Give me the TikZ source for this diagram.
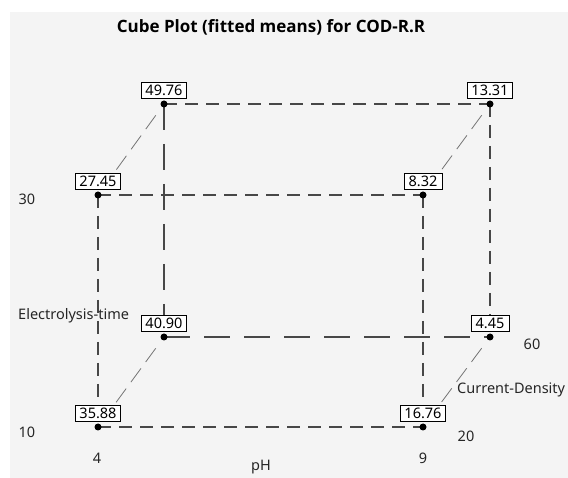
\documentclass[tikz,border=0pt]{standalone}
\usepackage{fontspec}
\setmainfont{Noto Sans}
\newfontfamily\titlefont{Open Sans}
\begin{document}
\begin{tikzpicture}[x=1pt,y=-1pt,
  edge/.style={draw=black!72, line width=1.1pt},
  shortdash/.style={edge, dash pattern=on 13pt off 8pt},
  longdash/.style={edge, dash pattern=on 26pt off 14pt},
  diag/.style={draw=black!55, line width=0.8pt, dash pattern=on 17pt off 8pt},
  dot/.style={circle, fill=black, inner sep=0pt, minimum size=7pt},
  val/.style={draw=black, fill=white, line width=0.6pt, inner xsep=1pt, inner ysep=0pt, font=\fontsize{14.5}{14.5}\selectfont, anchor=south, yshift=5pt, minimum width=45pt, minimum height=16pt},
  lab/.style={font=\fontsize{14.5}{15}\selectfont, inner sep=0pt, text=black!85}
]
\useasboundingbox (0,0) rectangle (568,478);
\fill[white] (0,0) rectangle (568,478);
\fill[black!4.5] (10,12) rectangle (568,478);
\node[font=\fontsize{17}{17}\selectfont\titlefont\bfseries, inner sep=0pt] (title) at (271,27) {Cube Plot (fitted means) for COD-R.R};

% corners
\coordinate (FBL) at (98,427);
\coordinate (FBR) at (423,427);
\coordinate (FTL) at (98,195);
\coordinate (FTR) at (423,195);
\coordinate (BBL) at (164,337);
\coordinate (BBR) at (490,337);
\coordinate (BTL) at (164,104);
\coordinate (BTR) at (490,104);

% back face
\draw[shortdash] (BTL) -- (BTR);
\draw[longdash] (BBL) -- (BBR);
\draw[longdash] (BTL) -- (BBL);
\draw[shortdash] (BTR) -- (BBR);
% front face
\draw[shortdash] (FTL) -- (FTR);
\draw[shortdash] (FBL) -- (FBR);
\draw[shortdash] (FTL) -- (FBL);
\draw[shortdash] (FTR) -- (FBR);
% diagonals
\draw[diag, shorten <=14pt, shorten >=22pt] (BTL) -- (FTL);
\draw[diag, shorten <=14pt, shorten >=22pt] (BTR) -- (FTR);
\draw[diag, shorten <=14pt, shorten >=22pt] (BBL) -- (FBL);
\draw[diag, shorten <=14pt, shorten >=22pt] (BBR) -- (FBR);

% dots and values
\node[dot] (d1) at (FBL) {};
\node[dot] (d2) at (FBR) {};
\node[dot] (d3) at (FTL) {};
\node[dot] (d4) at (FTR) {};
\node[dot] (d5) at (BBL) {};
\node[dot] (d6) at (BBR) {};
\node[dot] (d7) at (BTL) {};
\node[dot] (d8) at (BTR) {};
\node[val] (v1) at (FBL) {35.88};
\node[val] (v2) at (FBR) {16.76};
\node[val] (v3) at (FTL) {27.45};
\node[val, minimum width=38pt] (v4) at (FTR) {8.32};
\node[val] (v5) at (BBL) {40.90};
\node[val, minimum width=38pt] (v6) at (BBR) {4.45};
\node[val] (v7) at (BTL) {49.76};
\node[val] (v8) at (BTR) {13.31};

% axis labels
\node[lab] (l30) at (27,199) {30};
\node[lab] (l10) at (27,432) {10};
\node[lab] (l4) at (97,458) {4};
\node[lab] (l9) at (423,458) {9};
\node[lab] (lpH) at (261,467) {pH};
\node[lab, anchor=west] (let) at (18,316) {Electrolysis-time};
\node[lab] (l60) at (532,344) {60};
\node[lab] (l20) at (466,436) {20};
\node[lab, anchor=west] (lcd) at (457,390) {Current-Density};
\end{tikzpicture}
\end{document}
